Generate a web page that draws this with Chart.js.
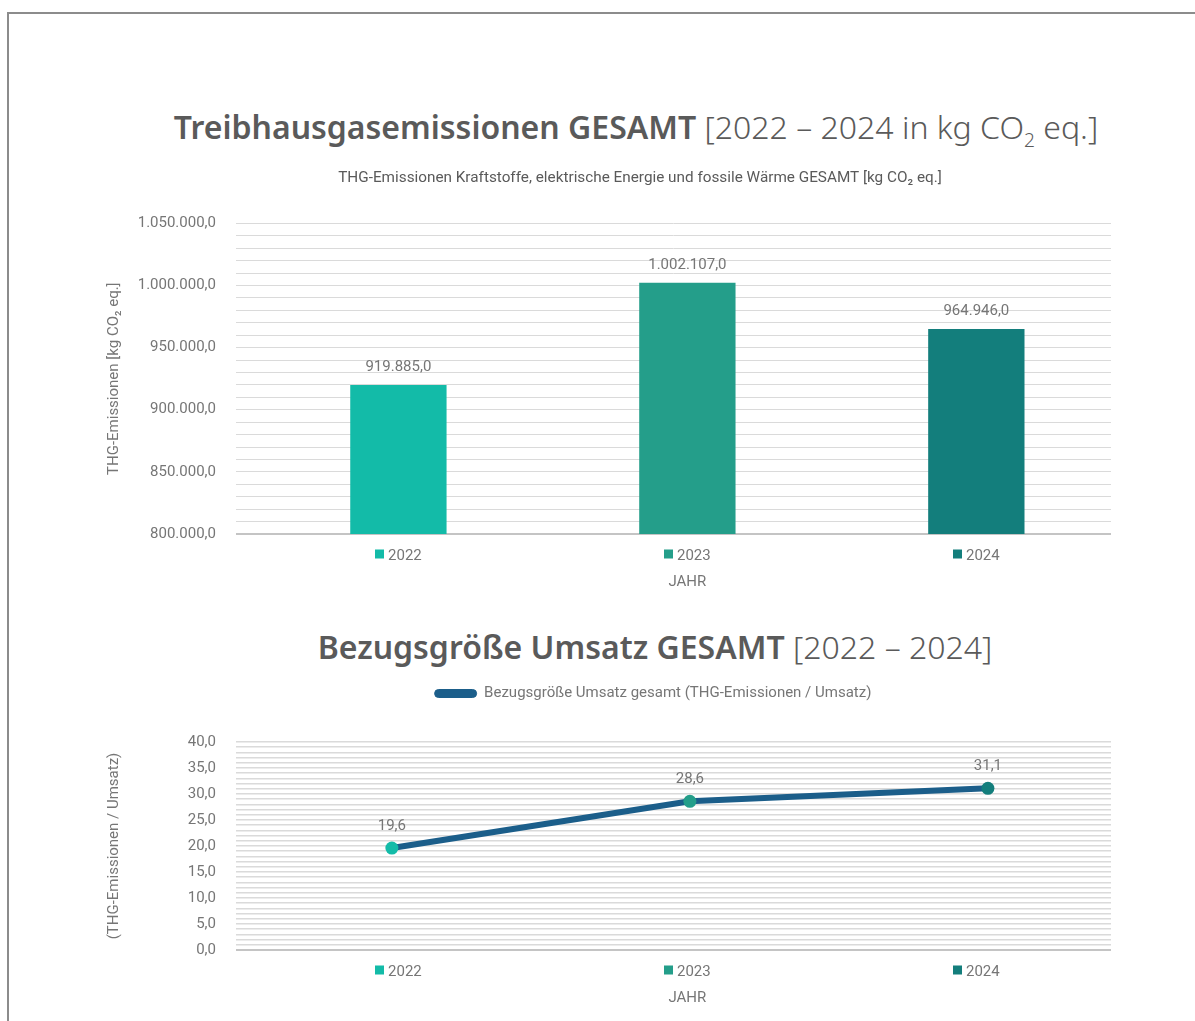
<!DOCTYPE html>
<html lang="de">
<head>
<meta charset="utf-8">
<title>Treibhausgasemissionen GESAMT</title>
<script src="https://cdn.jsdelivr.net/npm/chart.js@4/dist/chart.umd.min.js"></script>
<style>
    html, body { margin: 0; padding: 0; background: #fff; }
    body { width: 1195px; height: 1021px; position: relative; overflow: hidden; font-family: "Noto Sans", sans-serif; }
    .frame { position: absolute; left: 7px; top: 12px; width: 1200px; height: 1030px; border-left: 2px solid #8c8c8c; border-top: 2px solid #8c8c8c; }
    .heading { position: absolute; left: 0; width: 1195px; text-align: center; color: #5a5a5a; font-size: 32px; line-height: 40px; white-space: nowrap; }
    .heading b { font-weight: 600; }
    .heading span { font-weight: 300; }
    .heading sub { font-size: 60%; vertical-align: -8px; line-height: 0; }
    #h1 { top: 107px; padding-left: 77px; box-sizing: border-box; }
    #h2 { top: 627px; padding-left: 115px; box-sizing: border-box; }
    canvas { position: absolute; left: 95px; }
    #chart { top: 160px; }
    #chart2 { top: 676px; }
</style>
</head>
<body>
<div class="frame"></div>
<div class="heading" id="h1"><b>Treibhausgasemissionen GESAMT</b> <span>[2022 – 2024 in kg CO<sub>2</sub> eq.]</span></div>
<div class="heading" id="h2"><b>Bezugsgröße Umsatz GESAMT</b> <span>[2022 – 2024]</span></div>
<canvas id="chart" width="1040" height="440"></canvas>
<canvas id="chart2" width="1040" height="340"></canvas>
<script>
// Daten
const years = ['2022', '2023', '2024'];
const emissions = [919885.0, 1002107.0, 964946.0];
const ratio = [19.6, 28.6, 31.1];
const yearColors = ['#13bba8', '#249e8a', '#137e7c'];
const lineColor = '#1b5e8a';

// Bereich der Jahresachse (Index 0..2 plus Rand links/rechts)
const yearRange = { min: -0.562, max: 2.466 };
const pointRange = { min: -0.523, max: 2.413 };

const textColor = '#767676';
const gridColor = '#dadada';
const baseColor = '#c4c4c4';
const fontFamily = 'Roboto, "Noto Sans", sans-serif';

Chart.defaults.font.family = fontFamily;
Chart.defaults.font.size = 15;
Chart.defaults.color = textColor;

// Zahlen im deutschen Format: 1.002.107,0
function fmtDE(v, digits) {
    const s = v.toFixed(digits);
    let [i, d] = s.split('.');
    i = i.replace(/\B(?=(\d{3})+(?!\d))/g, '.');
    return d ? i + ',' + d : i;
}

// Werte über Balken / Punkten
const valueLabels = {
    id: 'valueLabels',
    afterDatasetsDraw(chart, args, opts) {
        const ctx = chart.ctx;
        const meta = chart.getDatasetMeta(0);
        const data = chart.data.datasets[0].data;
        ctx.save();
        ctx.font = '15px ' + fontFamily;
        ctx.fillStyle = textColor;
        ctx.textAlign = 'center';
        ctx.textBaseline = 'middle';
        meta.data.forEach((el, i) => {
            ctx.fillText(fmtDE(data[i].y, 1), el.x, el.y - opts.offset);
        });
        ctx.restore();
    }
};

// farbige Quadrate vor den Jahreszahlen + Achsentitel "JAHR"
const yearMarkers = {
    id: 'yearMarkers',
    afterDraw(chart, args, opts) {
        const ctx = chart.ctx;
        const scale = chart.scales[opts.axis];
        const y = scale.top + 20;
        ctx.save();
        ctx.font = '15px ' + fontFamily;
        scale.ticks.forEach((t, i) => {
            const x = scale.getPixelForTick(i);
            const w = ctx.measureText(years[i]).width;
            ctx.fillStyle = yearColors[i];
            ctx.fillRect(Math.round(x + 6.5 - w / 2 - 13), y - 4.5, 9, 9);
        });
        const mid = (scale.getPixelForTick(0) + scale.getPixelForTick(scale.ticks.length - 1)) / 2;
        ctx.fillStyle = textColor;
        ctx.textAlign = 'center';
        ctx.textBaseline = 'middle';
        ctx.fillText('JAHR', mid, scale.top + 48);
        ctx.restore();
    }
};

function gridOpts(width) {
    return {
        drawTicks: false,
        color: c => c.index === 0 ? baseColor : gridColor,
        lineWidth: c => c.index === 0 ? 2 : width
    };
}

// Jahresachse
function yearAxis() {
    return {
        type: 'linear',
        position: 'bottom',
        min: yearRange.min,
        max: yearRange.max,
        offset: false,
        grid: { display: false, offset: false },
        border: { display: false },
        afterBuildTicks: s => { s.ticks = years.map((y, i) => ({ value: i })); },
        ticks: { padding: 5, labelOffset: 6.5, callback: v => years[v] },
        afterFit: s => { s.height = 66; }
    };
}

// Diagramm 1: THG-Emissionen gesamt
const ctx = document.getElementById('chart').getContext('2d');
const chart = new Chart(ctx, {
    type: 'bar',
    data: {
        datasets: [{
            label: 'THG-Emissionen',
            data: emissions.map((v, i) => ({ x: i, y: v })),
            backgroundColor: yearColors,
            categoryPercentage: 1,
            barPercentage: 1 / 3
        }]
    },
    options: {
        responsive: false,
        animation: false,
        layout: { padding: { left: 0, right: 24, top: 0, bottom: 0 } },
        plugins: {
            legend: { display: false },
            tooltip: { enabled: false },
            title: {
                display: true,
                text: 'THG-Emissionen Kraftstoffe, elektrische Energie und fossile Wärme GESAMT [kg CO₂ eq.]',
                font: { size: 15.3, weight: 'normal' },
                color: '#5a5a5a',
                padding: { top: 9, bottom: 36 }
            },
            valueLabels: { offset: 18 },
            yearMarkers: { axis: 'x' },
            shiftBoxes: { title: 37 }
        },
        scales: {
            x: yearAxis(),
            y: {
                min: 800000,
                max: 1050000,
                grid: gridOpts(1),
                border: { display: false },
                ticks: {
                    stepSize: 10000,
                    maxTicksLimit: 100,
                    autoSkip: false,
                    padding: 20,
                    callback: v => v % 50000 === 0 ? fmtDE(v, 1) : ''
                },
                title: { display: true, text: 'THG-Emissionen [kg CO₂ eq.]', padding: { top: 10, bottom: 10 } },
                afterFit: s => { s.width = 141; }
            }
        }
    },
    plugins: [valueLabels, yearMarkers, {
        // Titel etwas nach rechts versetzen
        id: 'shiftBoxes',
        afterLayout(chart, args, opts) {
            chart.titleBlock.left += opts.title;
            chart.titleBlock.right += opts.title;
        }
    }]
});

// Legende mit mehr Abstand zum Diagramm, leicht nach rechts versetzt
const legendGap = {
    id: 'legendGap',
    beforeInit(chart) {
        const fit = chart.legend.fit;
        chart.legend.fit = function () {
            fit.bind(chart.legend)();
            this.height += 31;
        };
    },
    afterLayout(chart) {
        chart.legend.left += 50;
        chart.legend.right += 50;
    }
};

// Diagramm 2: Bezugsgröße Umsatz
const ctx2 = document.getElementById('chart2').getContext('2d');
const chart2 = new Chart(ctx2, {
    type: 'line',
    data: {
        datasets: [{
            label: 'Bezugsgröße Umsatz gesamt (THG-Emissionen / Umsatz)',
            data: ratio.map((v, i) => ({ x: i, y: v })),
            xAxisID: 'x',
            borderColor: lineColor,
            backgroundColor: lineColor,
            borderWidth: 6,
            borderCapStyle: 'round',
            pointRadius: 6.5,
            pointBorderWidth: 0,
            pointBackgroundColor: yearColors,
            tension: 0
        }]
    },
    options: {
        responsive: false,
        animation: false,
        layout: { padding: { left: 0, right: 24, top: 0, bottom: 0 } },
        plugins: {
            tooltip: { enabled: false },
            legend: {
                labels: {
                    boxWidth: 42,
                    boxHeight: 8,
                    useBorderRadius: true,
                    borderRadius: 4,
                    color: textColor,
                    generateLabels: c => [{
                        text: c.data.datasets[0].label,
                        fillStyle: lineColor,
                        strokeStyle: lineColor,
                        fontColor: textColor,
                        lineWidth: 1,
                        borderRadius: 4,
                        datasetIndex: 0
                    }]
                }
            },
            valueLabels: { offset: 22 },
            yearMarkers: { axis: 'xLabels' }
        },
        scales: {
            x: { type: 'linear', display: false, min: pointRange.min, max: pointRange.max },
            xLabels: yearAxis(),
            y: {
                min: 0,
                max: 40,
                grid: gridOpts(1.5),
                border: { display: false },
                ticks: {
                    stepSize: 1,
                    maxTicksLimit: 100,
                    autoSkip: false,
                    padding: 20,
                    callback: v => v % 5 === 0 ? fmtDE(v, 1) : ''
                },
                title: { display: true, text: '(THG-Emissionen / Umsatz)', padding: { top: 10, bottom: 10 } },
                afterFit: s => { s.width = 141; }
            }
        }
    },
    plugins: [valueLabels, yearMarkers, legendGap]
});
</script>
</body>
</html>
